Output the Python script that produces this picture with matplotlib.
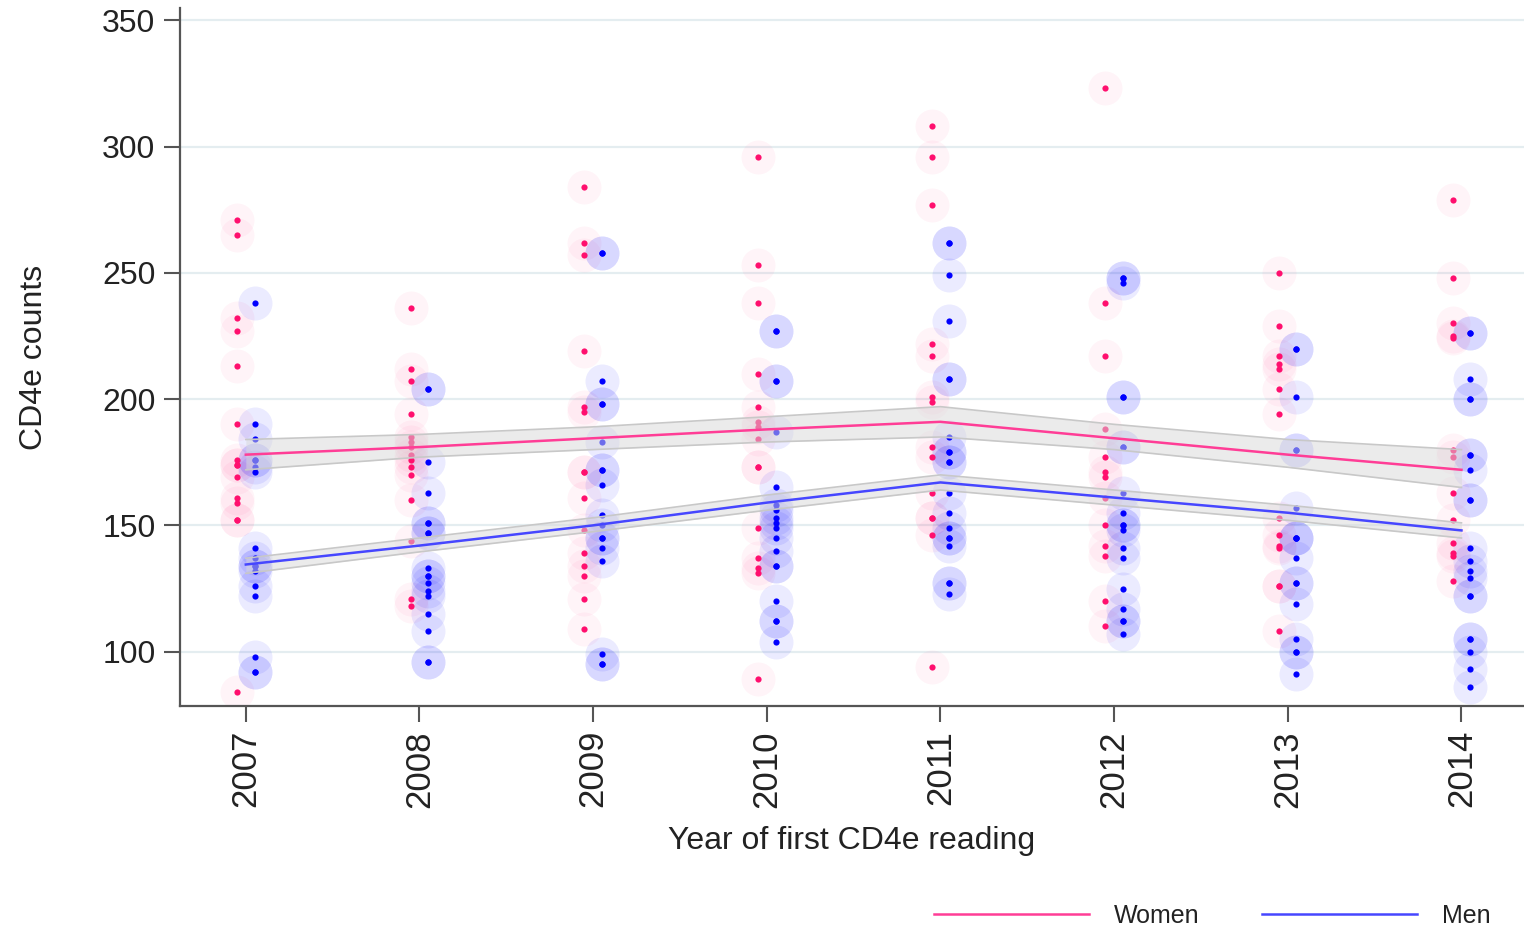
import matplotlib
matplotlib.use("Agg")
import matplotlib.pyplot as plt
import numpy as np

plt.rcParams['font.family'] = ['Liberation Sans', 'DejaVu Sans']

# --- data ------------------------------------------------------------------
years = [2007, 2008, 2009, 2010, 2011, 2012, 2013, 2014]

women_pts = [
    [271, 265, 232, 227, 213, 190, 176, 174, 174, 169, 161, 159, 152, 152, 84],
    [236, 212, 207, 194, 185, 183, 181, 178, 176, 173, 170, 160, 144, 121, 118],
    [284, 262, 257, 219, 197, 195, 171, 171, 161, 148, 139, 134, 130, 121, 109],
    [296, 253, 238, 210, 197, 191, 189, 184, 173, 173, 149, 137, 133, 131, 89],
    [308, 296, 277, 222, 217, 201, 199, 181, 177, 163, 153, 153, 146, 94],
    [323, 238, 217, 188, 177, 171, 169, 161, 150, 142, 138, 120, 110],
    [250, 229, 217, 214, 212, 204, 194, 153, 146, 142, 141, 126, 126, 108],
    [279, 248, 230, 225, 224, 180, 177, 163, 152, 143, 139, 138, 128],
]

men_pts = [
    [238, 190, 184, 176, 176, 173, 171, 141, 137, 134, 134, 132, 126, 122, 98, 92, 92],
    [204, 204, 175, 163, 151, 151, 147, 147, 133, 130, 130, 127, 124, 122, 115, 108, 96, 96],
    [258, 258, 207, 198, 198, 183, 172, 172, 166, 154, 150, 145, 145, 141, 136, 99, 95, 95],
    [227, 227, 207, 207, 187, 165, 158, 156, 153, 151, 149, 145, 140, 134, 134, 120, 112, 112, 104],
    [262, 262, 249, 231, 208, 208, 185, 179, 179, 175, 175, 163, 155, 149, 145, 145, 142, 127, 127, 123],
    [248, 248, 246, 201, 201, 181, 181, 163, 155, 150, 150, 148, 141, 137, 125, 117, 112, 112, 107],
    [220, 220, 201, 180, 180, 157, 145, 145, 145, 137, 127, 127, 119, 105, 100, 100, 91],
    [226, 226, 208, 200, 200, 178, 178, 172, 160, 160, 141, 136, 132, 129, 122, 122, 105, 105, 100, 93, 86],
]

women_mean = [178, 181, 184.5, 188, 191, 184.5, 178, 172]
women_lo = [172, 177, 180, 183, 185, 180, 173, 165]
women_hi = [184, 186, 189, 193, 197, 190, 184, 180]

men_mean = [134.5, 142, 150, 159, 167, 161, 155, 148]
men_lo = [131, 139.5, 147.5, 156, 164, 158, 152, 145]
men_hi = [137, 145, 153, 162, 170, 164, 158, 151]

# --- figure -----------------------------------------------------------------
fig = plt.figure(figsize=(15.24, 9.31), dpi=100)
ax = fig.add_axes([0.118, 0.242, 0.882, 0.749])

pink = '#ff0f6e'
blue = '#0000ff'
off = 0.05

for i, yr in enumerate(years):
    w = women_pts[i]
    m = men_pts[i]
    ax.scatter([yr - off] * len(w), w, s=600, color=pink, alpha=0.045, lw=0, zorder=1)
    ax.scatter([yr + off] * len(m), m, s=600, color=blue, alpha=0.08, lw=0, zorder=1)
    ax.scatter([yr - off] * len(w), w, s=20, color=pink, lw=0, zorder=2)
    ax.scatter([yr + off] * len(m), m, s=20, color=blue, lw=0, zorder=2)

ax.fill_between(years, women_lo, women_hi, color='#d9d9d9', alpha=0.5, lw=0, zorder=3)
ax.fill_between(years, men_lo, men_hi, color='#d9d9d9', alpha=0.5, lw=0, zorder=3)
for lo, hi in [(women_lo, women_hi), (men_lo, men_hi)]:
    ax.plot(years, lo, color='#c8c8c8', lw=1.2, zorder=3)
    ax.plot(years, hi, color='#c8c8c8', lw=1.2, zorder=3)

ax.plot(years, women_mean, color='#ff3d96', lw=1.8, zorder=4, label='Women')
ax.plot(years, men_mean, color='#4646ff', lw=1.8, zorder=4, label='Men')

ax.set_xlim(2006.62, 2014.36)
ax.set_ylim(78.6, 354.7)
ax.set_yticks([100, 150, 200, 250, 300, 350])
ax.set_xticks(years)
ax.set_xticklabels([str(y) for y in years], rotation=90)
ax.yaxis.grid(True, color='#e4edf0', lw=1.6, zorder=0)
ax.set_axisbelow(True)

for s in ['top', 'right']:
    ax.spines[s].set_visible(False)
for s in ['left', 'bottom']:
    ax.spines[s].set_color('#555555')
    ax.spines[s].set_linewidth(1.6)
ax.tick_params(axis='both', length=11.5, width=1.5, color='#555555',
               labelcolor='#222222', pad=6)
ax.tick_params(axis='y', labelsize=23)
ax.tick_params(axis='x', labelsize=25)

ax.set_xlabel('Year of first CD4e reading', fontsize=23, color='#222222', labelpad=13)
ax.set_ylabel('CD4e counts', fontsize=23, color='#222222', labelpad=38)

fig.legend(loc='lower right', bbox_to_anchor=(0.993, -0.021), ncol=2, frameon=False,
           fontsize=18, handlelength=6.2, handletextpad=1.0, columnspacing=2.5,
           labelcolor='#222222')

fig.savefig('out.png', dpi=100)
